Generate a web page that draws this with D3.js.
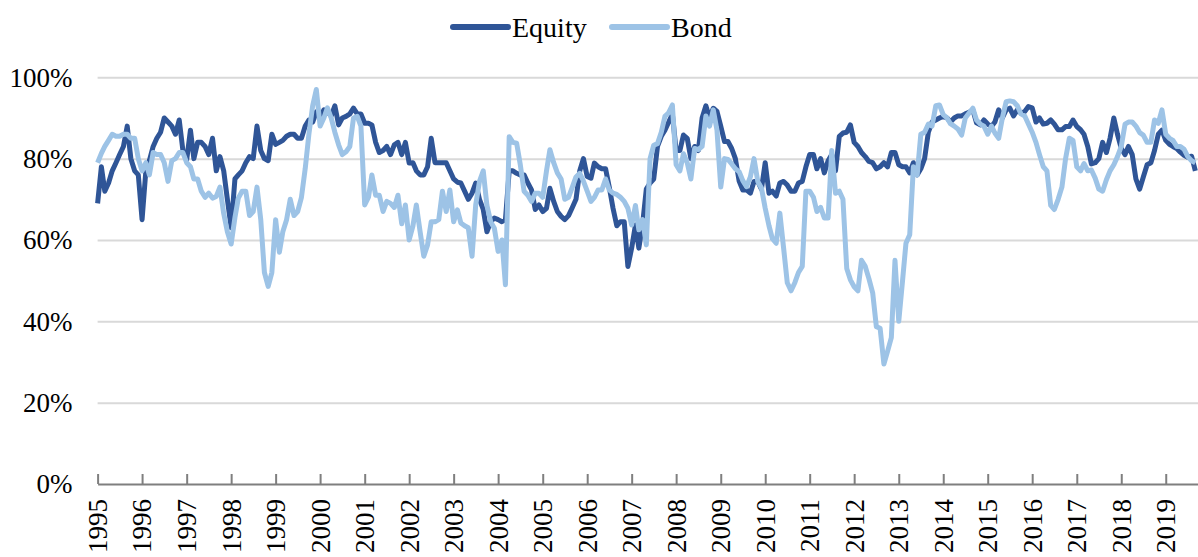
<!DOCTYPE html>
<html lang="en">
<head>
<meta charset="UTF-8" />
<title>Equity and Bond</title>
<style>
  body { margin: 0; background: #fff; }
  svg { display: block; font-family: "Liberation Serif", "Times New Roman", serif; }
</style>
</head>
<body>
<div id="chart"></div>
<script src="https://d3js.org/d3.v7.min.js"></script>
<script>
// monthly values, Jan 1995 .. Sep 2019 (percent)
const startYear = 1995;
const years = d3.range(1995, 2020);
const yTicks = [0, 20, 40, 60, 80, 100];
const seriesNames = ["Equity", "Bond"];

const equity = [
  69, 78, 72, 74, 77, 79, 81, 83, 88, 80, 77, 76,           // 1995
  65, 77, 79.5, 83, 85, 86.5, 90, 89, 88, 86, 89.5, 82,     // 1996
  79.7, 87, 80, 84, 84, 83, 81, 85, 77, 80.5, 77, 70,       // 1997
  63, 75, 76, 77, 79, 80.5, 80, 88, 82, 80, 79.5, 86,       // 1998
  83.5, 84, 84.5, 85.5, 86, 86, 85, 85, 88, 89.5, 89, 91.5, // 1999
  90, 92, 91.5, 90.5, 93, 88.3, 90, 90.4, 91, 92.4, 91, 91, // 2000
  88.7, 88.7, 88.3, 84, 81.5, 82, 83, 81, 83.4, 84, 81, 84, // 2001
  78.9, 79, 77, 76, 76, 78, 85, 79, 79, 79, 79, 77,         // 2002
  75, 74.2, 74, 72, 70, 71.5, 74, 70, 67.5, 62, 64.5, 65.4, // 2003
  65, 64.5, 65, 77, 77, 76.4, 76, 76, 74, 72.3, 67.5, 68.6, // 2004
  67, 67.8, 72.7, 69.5, 67, 65.8, 65, 66, 68, 70, 77, 80,   // 2005
  75.6, 75.2, 78.9, 78, 77.5, 77.5, 73, 67.8, 63.5, 64.5, 64.5, 53.5, // 2006
  58, 63.7, 58, 64, 72.5, 74, 75, 83, 85.5, 87, 89, 91,     // 2007
  82, 82, 85.8, 85, 80, 83, 82, 90, 93, 90, 92.4, 91.6,     // 2008
  88, 84.2, 84.2, 82.5, 80, 74.5, 72.3, 72.3, 71.5, 74.4, 74.4, 72.5, // 2009
  79, 71.5, 72, 70.8, 74, 74.4, 73.5, 72, 72, 74, 74.4, 78, // 2010
  81, 81, 77.5, 80, 76.5, 79.5, 81, 77, 85.5, 86.3, 86.5, 88.3, // 2011
  84, 83, 81.5, 80.5, 79.3, 79, 77.5, 78, 79, 78, 81.5, 81.5, // 2012
  78.5, 78, 78, 76.5, 79, 76, 77.5, 80, 86.5, 89, 89.5, 90, // 2013
  90.4, 90, 89, 90, 90.5, 90.5, 91, 91.4, 92, 88.8, 88.3, 89.5, // 2014
  88.5, 87.9, 89, 92, 90, 92, 92.4, 90.5, 92, 91.2, 91.6, 92.8, // 2015
  92.5, 89, 90, 88.5, 88.7, 89.5, 88.5, 87.1, 87.1, 87.9, 87.9, 89.5, // 2016
  87.9, 87.1, 86, 83, 78.7, 79, 80, 84, 81.5, 85, 90, 86,   // 2017
  82.5, 81, 83, 81, 75, 72.5, 75.5, 78.5, 79, 82, 86, 87,   // 2018
  84.5, 83.5, 83, 82.5, 81.6, 80.8, 80.3, 80.6, 77          // 2019
];

const bond = [
  79, 81.3, 83, 84.5, 86, 85.5, 85.5, 86, 86, 85, 85, 80,   // 1995
  77, 79, 76, 81.5, 81, 81, 79, 74.4, 79.5, 80, 81.5, 81.5, // 1996
  79, 78, 75, 75, 72, 70.5, 71.5, 70.3, 70.7, 73, 66.5, 62, // 1997
  59, 65.5, 70.3, 72, 72, 66, 67, 73, 65, 52, 48.6, 52,     // 1998
  65, 57, 62, 65, 70, 66, 67, 70.5, 77.6, 86, 93, 97,       // 1999
  88, 90, 92.5, 90, 86.5, 83.4, 81, 81.7, 83, 90, 90.4, 88, // 2000
  68.6, 70.5, 76, 71, 71, 67, 69.5, 69, 68, 71, 64, 68.6,   // 2001
  60, 63.5, 68.6, 62, 56, 58.8, 64.5, 64.5, 65, 72, 67, 72.3, // 2002
  64.5, 67.4, 64.2, 63.5, 63, 56, 68.6, 74.4, 77, 68.5, 64.5, 62.9, // 2003
  57.2, 60, 49, 85.4, 84, 83.8, 78.5, 72, 71, 69.5, 71.5, 71.5, // 2004
  70.5, 77, 82.2, 79, 76.5, 75, 70, 70.5, 73, 75.5, 76.4, 74.5, // 2005
  72, 69.5, 70.5, 72.3, 72.3, 75, 72.3, 71.5, 71.2, 70.5, 69.5, 67.8, // 2006
  63.7, 68.5, 62.5, 65, 58.8, 80, 83.3, 83.7, 86.5, 90.4, 91.3, 93.2, // 2007
  78.5, 77, 81.2, 79, 75, 82.5, 82.2, 83, 90.5, 88, 92, 87, // 2008
  73, 80, 79.8, 78.7, 77.5, 76.8, 74.6, 73.1, 75.5, 80, 74.4, 72.8, // 2009
  67.8, 63.5, 60.3, 59.2, 66.6, 58, 49.5, 47.5, 49.5, 52, 53.5, 72, // 2010
  72, 70.5, 67, 68, 65.4, 65.4, 82, 71.5, 72, 70, 53, 50.2, // 2011
  48.5, 47.5, 55, 53.5, 50.5, 47, 38.7, 38.3, 29.5, 32.6, 36, 55, // 2012
  40, 50, 59.2, 61.3, 78, 76, 86, 86.5, 88.5, 88, 93, 93.2, // 2013
  90.8, 90, 88.6, 88, 87.3, 85.8, 90, 91.2, 92.4, 89.5, 88.5, 88, // 2014
  86, 88, 86.3, 85, 90, 94, 94.2, 94, 93, 91, 90.5, 88.5,   // 2015
  86.5, 84, 81, 78, 77, 68.5, 67.5, 70, 73, 80, 85, 84.5,   // 2016
  78, 77, 78.8, 77, 77.2, 75.2, 72.5, 72, 74.8, 77, 78.5, 80.5, // 2017
  83, 88.5, 89, 89, 88, 86.4, 85.8, 84, 84, 89.5, 88.7, 92, // 2018
  86, 85, 84.5, 83, 83, 82.3, 80.5, 79.5, 79                // 2019
];

const colors = { Equity: "#2F5597", Bond: "#9DC3E6" };
const fontFamily = "'Liberation Serif', 'Times New Roman', serif";

const width = 1198;
const height = 557;
const marginLeft = 97.6;
const marginRight = 0;
const plotTop = 77.3;
const plotBottom = 484;

const svg = d3.select("#chart").append("svg")
    .attr("width", width)
    .attr("height", height)
    .attr("viewBox", [0, 0, width, height])
    .attr("font-family", fontFamily);

const x = d3.scaleTime()
    .domain([new Date(startYear, 0, 1), new Date(startYear, equity.length, 1)])
    .range([marginLeft, width + 1 - marginRight]);

const y = d3.scaleLinear()
    .domain([0, 100])
    .range([plotBottom, plotTop]);

// gridlines + y labels
svg.append("g")
    .attr("transform", `translate(${marginLeft},0)`)
    .call(d3.axisLeft(y).tickValues(yTicks).tickSize(-(width - marginLeft)).tickPadding(25)
        .tickFormat(d => d + "%"))
    .attr("font-family", fontFamily)
    .attr("font-size", 27)
    .call(g => g.select(".domain").remove())
    .call(g => g.selectAll(".tick line")
        .attr("stroke", "#d9d9d9")
        .attr("stroke-width", 2)
        .attr("display", d => d === 0 ? "none" : null))
    .call(g => g.selectAll(".tick text")
        .attr("fill", "#000")
        .attr("dy", "0.33em"));

// x axis with ticks pointing up, labels rotated
svg.append("g")
    .attr("transform", `translate(0,${plotBottom})`)
    .call(d3.axisBottom(x)
        .tickValues(years.map(yr => new Date(yr, 0, 1)))
        .tickSize(-10)
        .tickSizeOuter(0)
        .tickFormat(d3.timeFormat("%Y")))
    .attr("font-family", fontFamily)
    .attr("font-size", 27)
    .call(g => g.select(".domain").attr("stroke", "#7f7f7f").attr("stroke-width", 2))
    .call(g => g.selectAll(".tick line").attr("stroke", "#7f7f7f").attr("stroke-width", 2))
    .call(g => g.selectAll(".tick text")
        .attr("fill", "#000")
        .attr("transform", "rotate(-90)")
        .attr("text-anchor", "end")
        .attr("x", -15)
        .attr("y", 0)
        .attr("dy", "0.33em"));

const dates = equity.map((d, i) => new Date(startYear, i, 1));
const series = [
  { name: "Equity", values: equity },
  { name: "Bond", values: bond }
];

const line = d3.line()
    .x((d, i) => x(dates[i]))
    .y(d => y(d));

svg.append("g")
  .selectAll("path")
  .data(series)
  .join("path")
    .attr("fill", "none")
    .attr("stroke", d => colors[d.name])
    .attr("stroke-width", 5)
    .attr("stroke-linejoin", "round")
    .attr("d", d => line(d.values));

// legend
const legend = svg.append("g");
const legendItems = [
  { name: "Equity", x: 453 },
  { name: "Bond", x: 612 }
];
legendItems.forEach(item => {
  legend.append("line")
      .attr("x1", item.x).attr("x2", item.x + 55)
      .attr("y1", 27).attr("y2", 27)
      .attr("stroke", colors[item.name])
      .attr("stroke-width", 6)
      .attr("stroke-linecap", "round");
  legend.append("text")
      .attr("x", item.x + 59)
      .attr("y", 37)
      .attr("font-size", 28)
      .attr("fill", "#000")
      .text(item.name);
});
</script>
</body>
</html>
